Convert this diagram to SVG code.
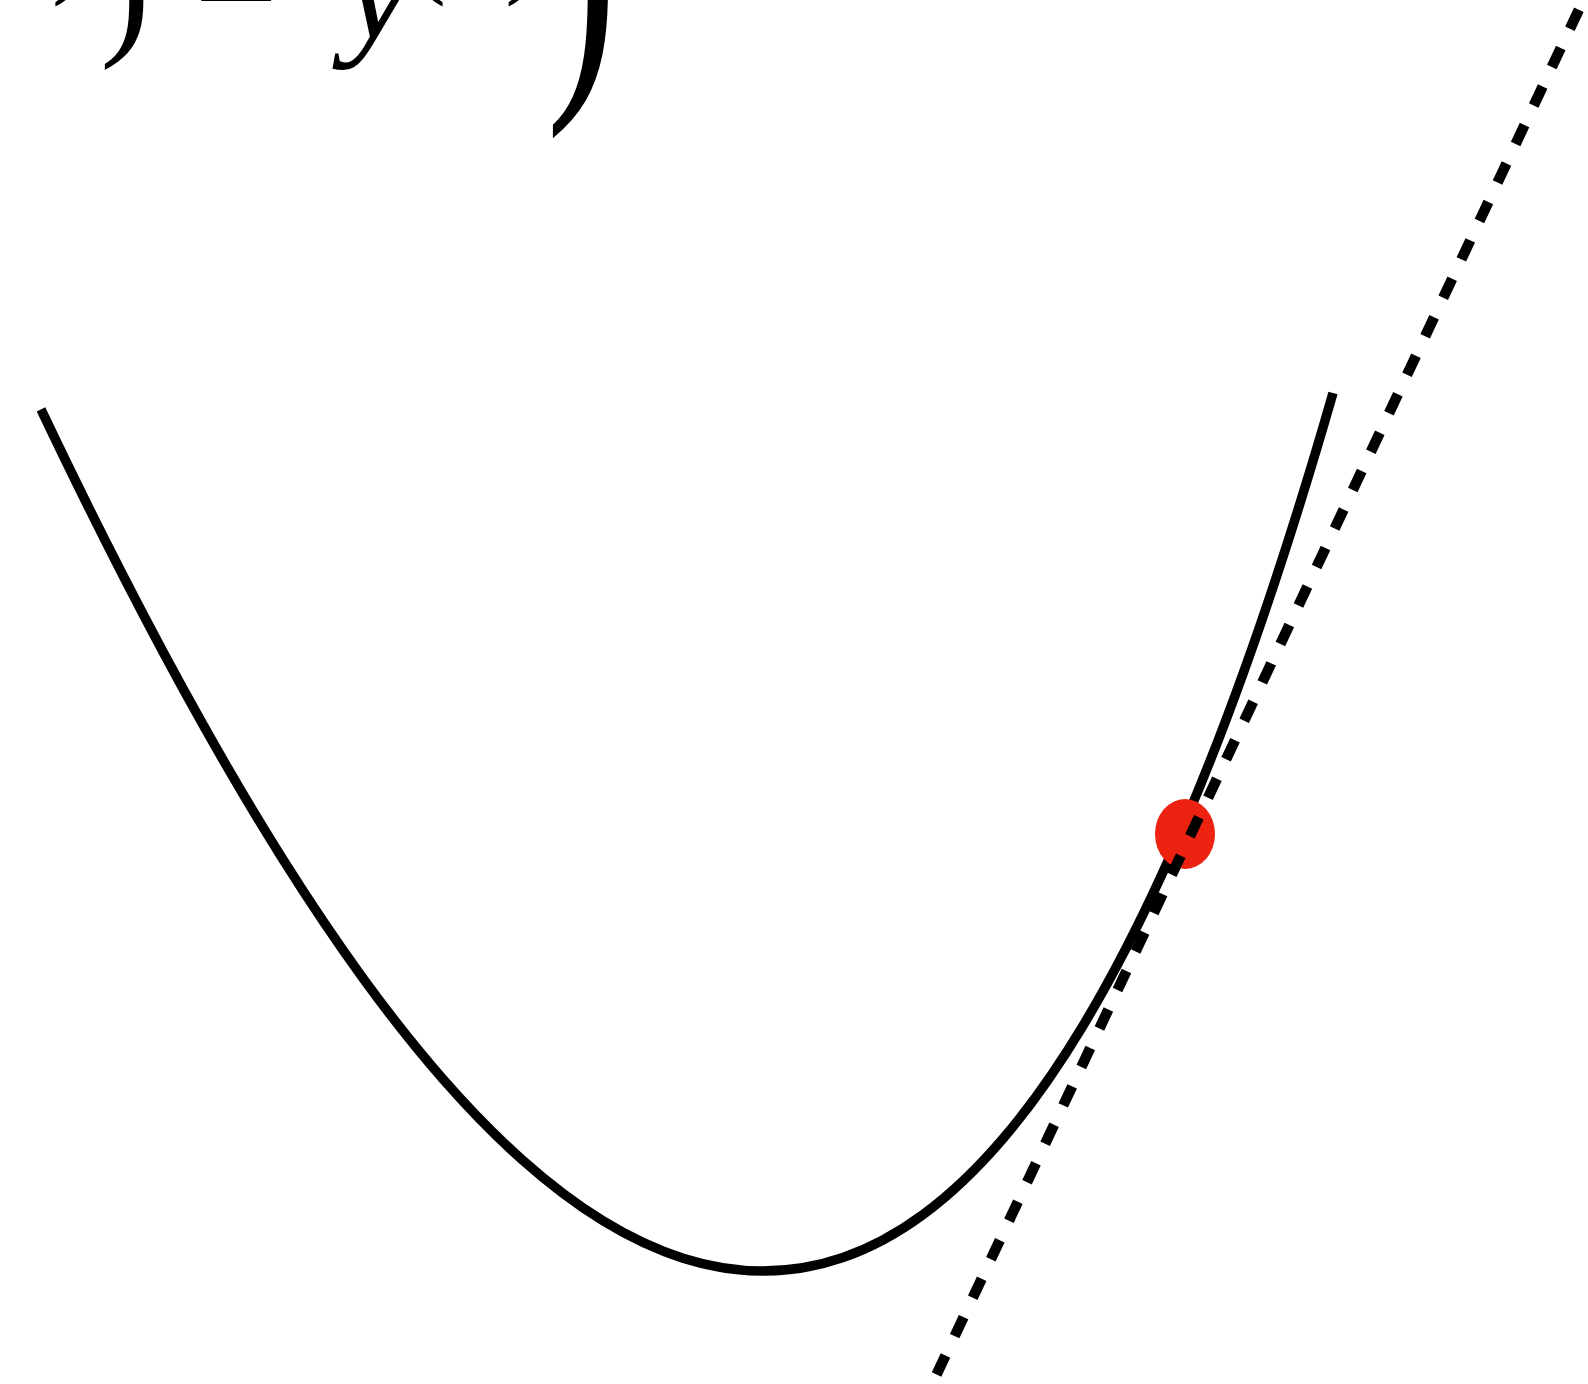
<svg xmlns="http://www.w3.org/2000/svg" width="1588" height="1384" viewBox="0 0 1588 1384">
<style>
.m{font-family:"Liberation Serif","DejaVu Serif",serif;fill:#000}
.it{font-style:italic}
.curve{fill:none;stroke:#000;stroke-width:9.5;stroke-linecap:butt;stroke-linejoin:round}
.tan{fill:none;stroke:#000;stroke-width:10.5;stroke-dasharray:21 21.5;stroke-dashoffset:14.4}
</style>
<rect width="1588" height="1384" fill="#fff"/>
<g id="formula">
<text class="m" x="52" y="-16" font-size="105">)</text>
<text class="m" x="100" y="38" font-size="150">)</text>
<text class="m" x="194" y="47" font-size="150">−</text>
<text class="m it" x="345" y="38" font-size="150">y</text>
<text class="m" x="411" y="-16" font-size="105">(<tspan class="it" dx="15">i</tspan><tspan dx="15">)</tspan></text>
<text class="m" font-size="330" transform="translate(546,68) scale(0.65,1)">)</text>
</g>
<g id="curve">
<path class="curve" d="M41,409.4 C68.33,466.8 95.67,522.3 123,575.5 C149.67,627.45 176.330,677.26 203,724.7 C229.67,772.14 256.33,817.15 283,859.5 C309.67,901.85 336.33,941.5 363,978.2 C389.67,1014.9 416.33,1048.62 443,1079.1 C469.67,1109.58 496.33,1136.79 523,1160.5 C549.67,1184.21 576.33,1204.43 603,1220.8 C629.67,1237.17 656.33,1249.75 683,1258.2 C709.67,1266.65 736.33,1271 763,1271 C789.67,1271 816.33,1266.77 843,1257.6 C869.67,1248.43 896.33,1234.3 923,1214.7 C949.67,1195.1 976.33,1169.98 1003,1138.7 C1029.67,1107.42 1056.33,1069.95 1083,1025.7 C1109.67,981.45 1136.33,930.43 1163,872 C1189.67,813.57 1216.33,747.7 1243,673.8 C1273,590.67 1303,497.4 1333,393"/>
</g>
<g id="point">
<ellipse cx="1185" cy="834" rx="30" ry="35" fill="#EE2210"/>
</g>
<g id="connectors">
<line class="tan" x1="924.6" y1="1400" x2="1588.1" y2="-10"/>
</g>
</svg>
